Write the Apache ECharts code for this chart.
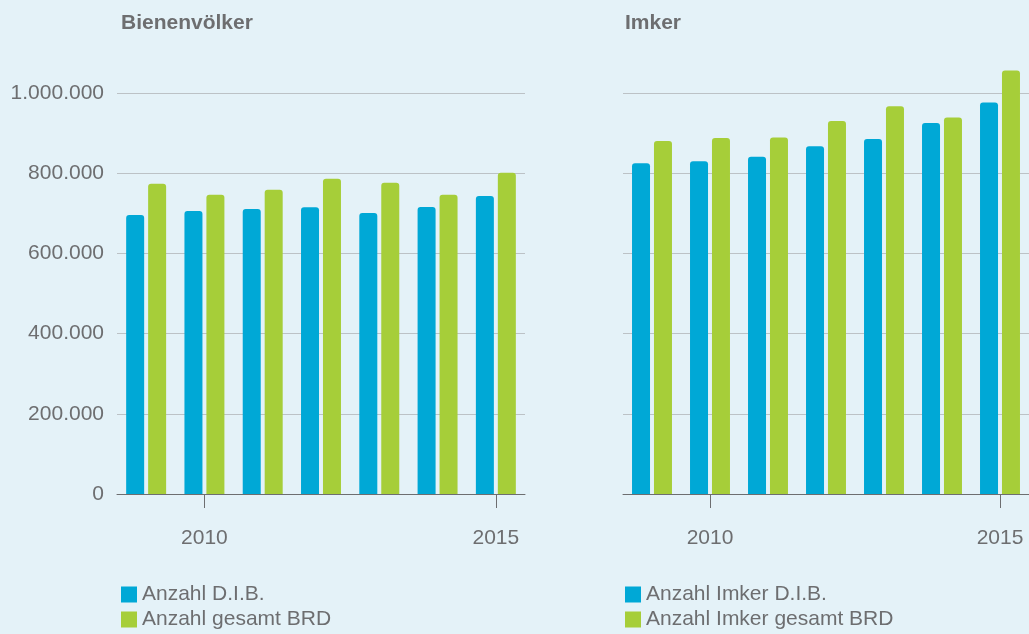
<!DOCTYPE html>
<html>
<head>
<meta charset="utf-8">
<script src="https://cdn.jsdelivr.net/npm/echarts@6/dist/echarts.min.js"></script>
<style>
  html, body { margin: 0; padding: 0; background: #e4f2f8; }
  #chart { width: 1029px; height: 634px; }
</style>
</head>
<body>
<div id="chart"></div>
<script>
// Werte
const years = ['2009', '2010', '2011', '2012', '2013', '2014', '2015']
const labeledYears = ['2010', '2015']

const voelkerDib = [696000, 706000, 711000, 715000, 701000, 716000, 743000]
const voelkerBrd = [774000, 746000, 759000, 786000, 776000, 746000, 801000]

const imkerDib = [82500, 83000, 84100, 86700, 88500, 92500, 97600]
const imkerBrd = [88000, 88800, 88900, 93000, 96700, 93900, 105600]

const voelkerTicks = { min: 0, max: 1000000, step: 200000 }
const imkerTicks = { min: 0, max: 100000, step: 20000 }

const BLUE = '#00a8d6'
const GREEN = '#a6ce39'
const TEXT = '#6d6e70'
const FONT = '"Liberation Sans", Arial, Helvetica, sans-serif'

function germanNumber(v) {
  return String(v).replace(/\B(?=(\d{3})+(?!\d))/g, '.')
}

const showYear = (idx, value) => labeledYears.includes(value)

function xAxis(gridIndex) {
  return {
    type: 'category',
    gridIndex,
    data: years,
    axisLine: { show: true, lineStyle: { color: TEXT, width: 1 } },
    axisTick: {
      show: true,
      alignWithLabel: true,
      interval: showYear,
      length: 14,
      lineStyle: { color: TEXT, width: 1 },
    },
    axisLabel: {
      interval: showYear,
      margin: 34,
      fontSize: 21,
      color: TEXT,
      fontFamily: FONT,
    },
  }
}

function yAxis(gridIndex, ticks, showLabels) {
  return {
    type: 'value',
    gridIndex,
    min: ticks.min,
    max: ticks.max,
    interval: ticks.step,
    axisLine: { show: false },
    axisTick: { show: false },
    splitLine: { show: true, lineStyle: { color: '#bcc2c6', width: 1 } },
    axisLabel: {
      show: showLabels,
      margin: 13,
      fontSize: 21,
      color: TEXT,
      fontFamily: FONT,
      formatter: germanNumber,
    },
  }
}

function bars(name, data, color, axis) {
  return {
    name,
    type: 'bar',
    xAxisIndex: axis,
    yAxisIndex: axis,
    data,
    barWidth: 18,
    barGap: '22%',
    clip: false,
    itemStyle: { color, borderRadius: [3, 3, 0, 0] },
  }
}

function legend(left, names) {
  return {
    orient: 'vertical',
    left,
    top: 584,
    padding: 0,
    itemGap: 4,
    itemWidth: 16,
    itemHeight: 16,
    icon: 'rect',
    data: names,
    selectedMode: false,
    textStyle: { fontSize: 21, color: TEXT, fontFamily: FONT, padding: [0, 0, 0, 0] },
  }
}

const chart = echarts.init(document.getElementById('chart'), null, { renderer: 'canvas' })

chart.setOption({
  backgroundColor: '#e4f2f8',
  animation: false,
  title: [
    {
      text: 'Bienenvölker',
      left: 121,
      top: 13,
      padding: 0,
      textStyle: { fontSize: 21, fontWeight: 'bold', color: TEXT, fontFamily: FONT },
    },
    {
      text: 'Imker',
      left: 625,
      top: 13,
      padding: 0,
      textStyle: { fontSize: 21, fontWeight: 'bold', color: TEXT, fontFamily: FONT },
    },
  ],
  legend: [
    legend(121, ['Anzahl D.I.B.', 'Anzahl gesamt BRD']),
    legend(625, ['Anzahl Imker D.I.B.', 'Anzahl Imker gesamt BRD']),
  ],
  grid: [
    { left: 117, top: 93, width: 408, height: 401 },
    { left: 623, top: 93, width: 408, height: 401 },
  ],
  xAxis: [xAxis(0), xAxis(1)],
  yAxis: [yAxis(0, voelkerTicks, true), yAxis(1, imkerTicks, false)],
  series: [
    bars('Anzahl D.I.B.', voelkerDib, BLUE, 0),
    bars('Anzahl gesamt BRD', voelkerBrd, GREEN, 0),
    bars('Anzahl Imker D.I.B.', imkerDib, BLUE, 1),
    bars('Anzahl Imker gesamt BRD', imkerBrd, GREEN, 1),
  ],
})
</script>
</body>
</html>
